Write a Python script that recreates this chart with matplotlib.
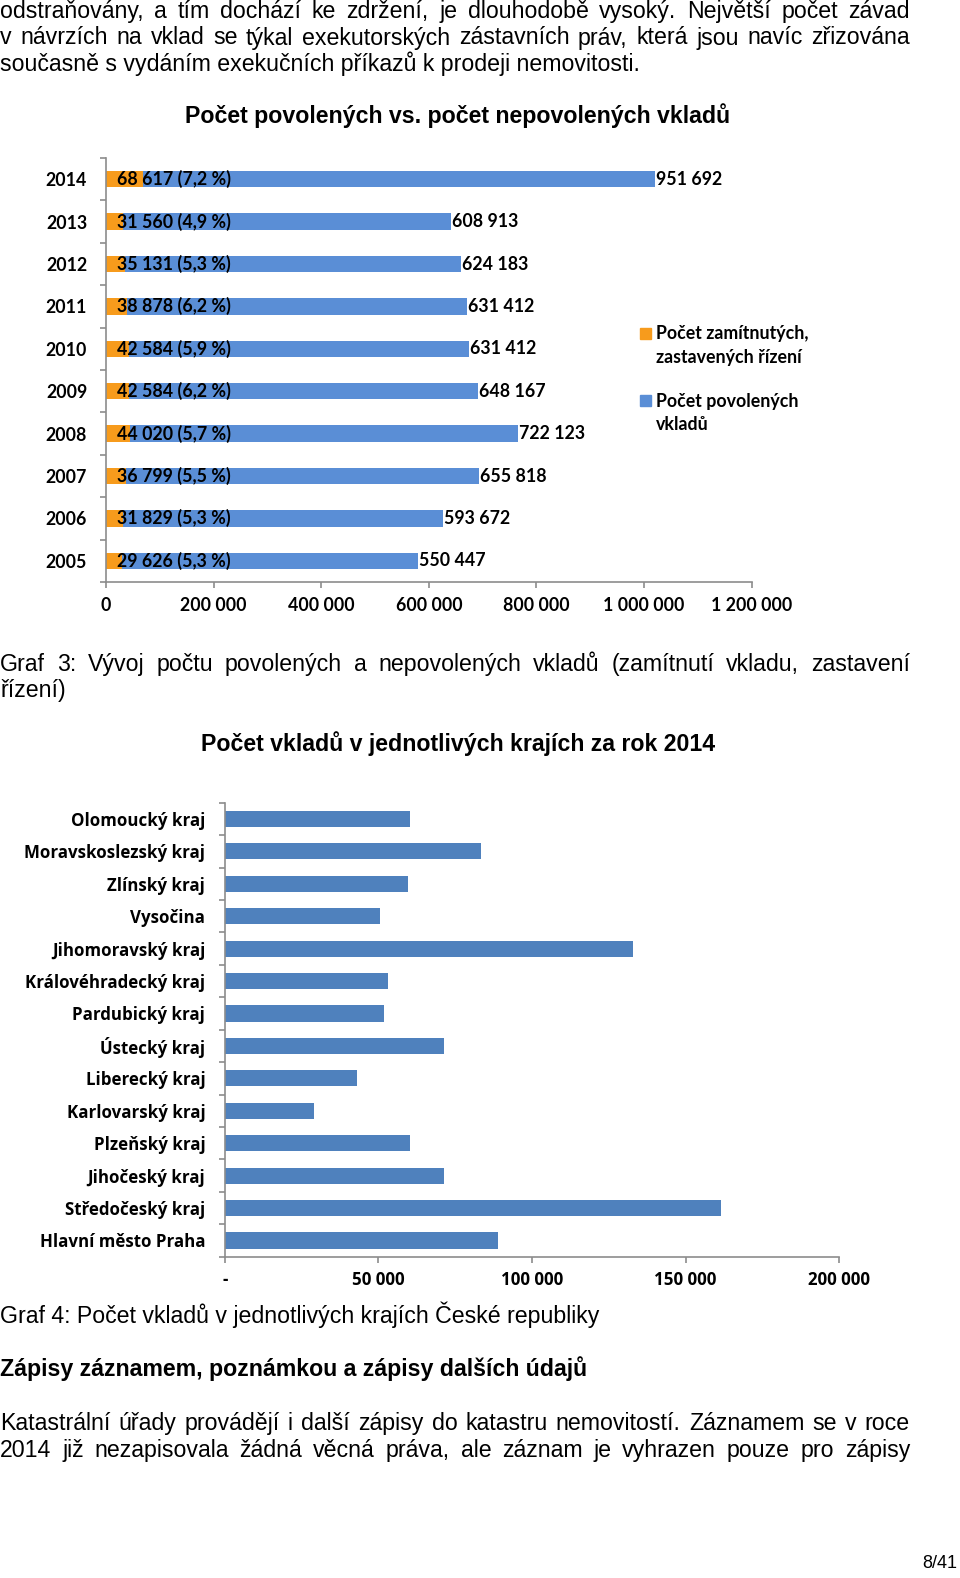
import matplotlib
matplotlib.use('Agg')
import matplotlib.pyplot as plt
import matplotlib.transforms as mtransforms
from matplotlib.patches import Rectangle
import numpy as np

# data: graph 3 (top chart), listed top to bottom
years = ['2014', '2013', '2012', '2011', '2010', '2009', '2008', '2007', '2006', '2005']
allowed = [951692, 608913, 624183, 631412, 631412, 648167, 722123, 655818, 593672, 550447]
rejected = [68617, 31560, 35131, 38878, 42584, 42584, 44020, 36799, 31829, 29626]
rejected_pct = ['7,2', '4,9', '5,3', '6,2', '5,9', '6,2', '5,7', '5,5', '5,3', '5,3']
ticks1 = [0, 200000, 400000, 600000, 800000, 1000000, 1200000]
legend1 = [('Počet zamítnutých,', 'zastavených řízení'), ('Počet povolených', 'vkladů')]

# data: graph 4 (bottom chart), listed top to bottom
regions = ['Olomoucký kraj', 'Moravskoslezský kraj', 'Zlínský kraj', 'Vysočina',
           'Jihomoravský kraj', 'Královéhradecký kraj', 'Pardubický kraj', 'Ústecký kraj',
           'Liberecký kraj', 'Karlovarský kraj', 'Plzeňský kraj', 'Jihočeský kraj',
           'Středočeský kraj', 'Hlavní město Praha']
deposits = [60300, 83400, 59500, 50400, 132700, 53000, 51700, 71500,
            43000, 29000, 60200, 71500, 161600, 88900]
ticks2 = [0, 50000, 100000, 150000, 200000]

W, H = 960, 1578
fig = plt.figure(figsize=(W / 100, H / 100), dpi=100)
# pixel coordinates measured from the top-left corner
px = mtransforms.Affine2D().scale(1, -1).translate(0, H)

body = dict(family='Liberation Sans', fontsize=16.7, color='black')
bold_body = dict(family='Liberation Sans', fontsize=16.7, color='black', weight='bold')
font1 = dict(family='Lato', weight='bold', fontsize=12.8)
font2 = dict(family='Open Sans', weight='bold', fontsize=12.2)

ORANGE = '#F79B1C'
BLUE1 = '#5A8ED6'
BLUE2 = '#4F81BD'
AXIS = '#8C8C8C'


def fmt(v):
    return f'{v:,}'.replace(',', ' ')


renderer = fig.canvas.get_renderer()


def justify(text, y, x0=0, x1=910, **kw):
    words = text.split(' ')
    widths = []
    for w in words:
        t = fig.text(0, 0, w, **kw)
        widths.append(t.get_window_extent(renderer).width)
        t.remove()
    gap = (x1 - x0 - sum(widths)) / (len(words) - 1)
    x = x0
    for w, wd in zip(words, widths):
        fig.text(x, y, w, transform=px, va='baseline', **kw)
        x += wd + gap


def line(text, y, x=0, **kw):
    fig.text(x, y, text, transform=px, va='baseline', **kw)


# page text
justify('odstraňovány, a tím dochází ke zdržení, je dlouhodobě vysoký. Největší počet závad', 18, **body)
justify('v návrzích na vklad se týkal exekutorských zástavních práv, která jsou navíc zřizována', 44.5, **body)
line('současně s vydáním exekučních příkazů k prodeji nemovitosti.', 71, **body)
fig.text(458, 123, 'Počet povolených vs. počet nepovolených vkladů', transform=px,
         ha='center', va='baseline', **bold_body)
justify('Graf 3: Vývoj počtu povolených a nepovolených vkladů (zamítnutí vkladu, zastavení', 671, **body)
line('řízení)', 697, **body)
fig.text(458, 751, 'Počet vkladů v jednotlivých krajích za rok 2014', transform=px,
         ha='center', va='baseline', **bold_body)
line('Graf 4: Počet vkladů v jednotlivých krajích České republiky', 1323, **body)
line('Zápisy záznamem, poznámkou a zápisy dalších údajů', 1376, **bold_body)
justify('Katastrální úřady provádějí i další zápisy do katastru nemovitostí. Záznamem se v roce', 1430, **body)
justify('2014 již nezapisovala žádná věcná práva, ale záznam je vyhrazen pouze pro zápisy', 1457, **body)
fig.text(957, 1568, '8/41', transform=px, ha='right', va='baseline',
         family='Liberation Sans', fontsize=13)


def place(ax, left, top, right, bottom):
    ax.set_position([left / W, 1 - bottom / H, (right - left) / W, (bottom - top) / H])


def style_axes(ax, n, ypad, xpad, font):
    for s in ['top', 'right']:
        ax.spines[s].set_visible(False)
    for s in ['left', 'bottom']:
        ax.spines[s].set_color(AXIS)
        ax.spines[s].set_linewidth(1.2)
    ax.set_ylim(n - 0.5, -0.5)
    ax.set_yticks(np.arange(n))
    ax.set_yticks(np.arange(n + 1) - 0.5, minor=True)
    ax.tick_params(axis='y', which='major', length=0, pad=ypad)
    ax.tick_params(axis='y', which='minor', length=4.5, color=AXIS, width=1.2)
    ax.tick_params(axis='x', length=4.5, color=AXIS, width=1.2, pad=xpad)
    for lab in ax.get_xticklabels() + ax.get_yticklabels():
        lab.set_fontfamily(font['family'])
        lab.set_fontweight('bold')
        lab.set_fontsize(font['fontsize'])


# graph 3
ax1 = fig.add_axes([0, 0, 1, 1])
place(ax1, 106, 158, 751.7, 582)
y1 = np.arange(len(years))
ax1.barh(y1, rejected, height=0.39, color=ORANGE)
ax1.barh(y1, allowed, left=rejected, height=0.39, color=BLUE1)
ax1.set_xlim(0, 1200000)
ax1.set_xticks(ticks1)
ax1.set_xticklabels([fmt(t) for t in ticks1])
ax1.set_yticklabels(years)
style_axes(ax1, len(years), 13.5, 6.5, font1)
for i in range(len(years)):
    ax1.annotate(f'{fmt(rejected[i])} ({rejected_pct[i]} %)', (0, i), xytext=(11, 0),
                 textcoords='offset pixels', va='center', ha='left', **font1)
    ax1.annotate(fmt(allowed[i]), (rejected[i] + allowed[i], i), xytext=(1, 0),
                 textcoords='offset pixels', va='center', ha='left', **font1)

# legend of graph 3, square next to the first line of each entry
for (l1, l2), col, mid in zip(legend1, [ORANGE, BLUE1], [333, 400.5]):
    fig.patches.append(Rectangle((640, mid - 5.5), 11, 11, transform=px, color=col))
    fig.text(656, mid + 6.5, l1, transform=px, va='baseline', **font1)
    fig.text(656, mid + 29.5, l2, transform=px, va='baseline', **font1)

# graph 4
ax2 = fig.add_axes([0, 0, 1, 1])
place(ax2, 224.8, 802.7, 839.3, 1256.7)
y2 = np.arange(len(regions))
ax2.barh(y2, deposits, height=0.5, color=BLUE2)
ax2.set_xlim(0, 200000)
ax2.set_xticks(ticks2)
ax2.set_xticklabels(['-'] + [fmt(t) for t in ticks2[1:]])
ax2.set_yticklabels(regions)
style_axes(ax2, len(regions), 14, 5.5, font2)

fig.savefig('out.png', dpi=100)
